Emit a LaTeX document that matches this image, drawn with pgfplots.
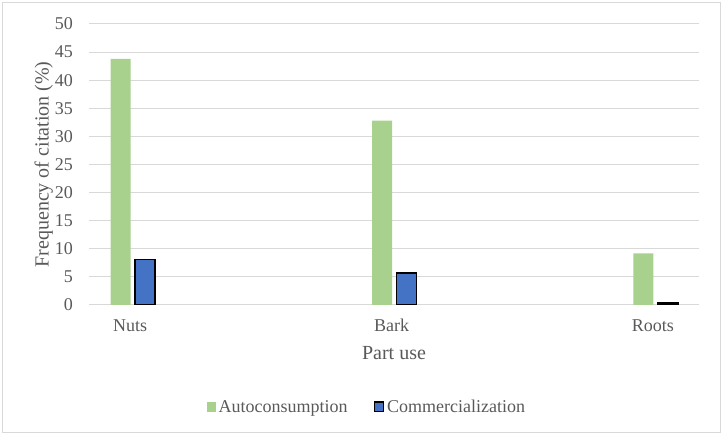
\documentclass[border=0pt]{standalone}
\usepackage{pgfplots}
\pgfplotsset{compat=1.18}
\usepackage{fontspec}
\setmainfont{Liberation Serif}

\definecolor{autoc}{HTML}{A9D18E}
\definecolor{comm}{HTML}{4472C4}
\definecolor{gridc}{HTML}{D9D9D9}
\definecolor{txt}{HTML}{595959}

\begin{document}
\begin{tikzpicture}
\draw[gridc, line width=1pt] (2.5pt,3pt) rectangle (720.5pt,433.5pt);
\begin{axis}[
    at={(89pt,131pt)}, anchor=south west,
    scale only axis, width=610pt, height=281pt,
    ybar,
    xmin=-0.157, xmax=2.176,
    ymin=0, ymax=50,
    xtick={0,1,2}, xticklabels={Nuts, Bark, Roots},
    ytick={0,5,...,50},
    ymajorgrids, grid style={gridc, line width=1pt},
    axis line style={draw=none},
    major tick length=0pt,
    tick label style={font=\fontsize{18}{20}\selectfont, color=txt},
    /pgf/number format/assume math mode=true,
    yticklabel style={anchor=east, inner sep=0pt, xshift=-16pt},
    xticklabel style={anchor=base, inner sep=0pt, yshift=-27pt},
    xlabel={Part use},
    ylabel={Frequency of citation (\%)},
    label style={font=\fontsize{20}{22}\selectfont, color=txt},
    xlabel style={at={(axis description cs:0.5,0)}, anchor=base, inner sep=0pt, yshift=-55pt},
    ylabel style={at={(axis description cs:-0.074,0.5)}, anchor=center, inner sep=0pt},
    bar width=20pt,
    legend columns=2,
    legend style={at={(axis description cs:0.193,-0.363)}, anchor=west,
        draw=none, fill=none, inner sep=0pt, outer sep=0pt,
        font=\fontsize{18}{20}\selectfont, text=txt,
        nodes={inner sep=0pt},
        /tikz/every odd column/.append style={column sep=3pt},
        /tikz/every even column/.append style={column sep=26pt}},
    legend image code/.code={\path[#1] (0pt,-4.5pt) rectangle (9pt,5pt);},
]
\addplot[fill=autoc, draw=none, bar shift=-9.5pt] coordinates {
    (0, 43.8)
    (1, 32.8)
    (2, 9.2)
};
\addplot[fill=comm, draw=black, line width=1.4pt, bar shift=15pt] coordinates {
    (0, 8.1)
    (1, 5.7)
    (2, 0.35)
};
\legend{Autoconsumption, Commercialization}
\end{axis}
\pgfresetboundingbox
\path (0,0) rectangle (724pt,436pt);
\end{tikzpicture}
\end{document}
